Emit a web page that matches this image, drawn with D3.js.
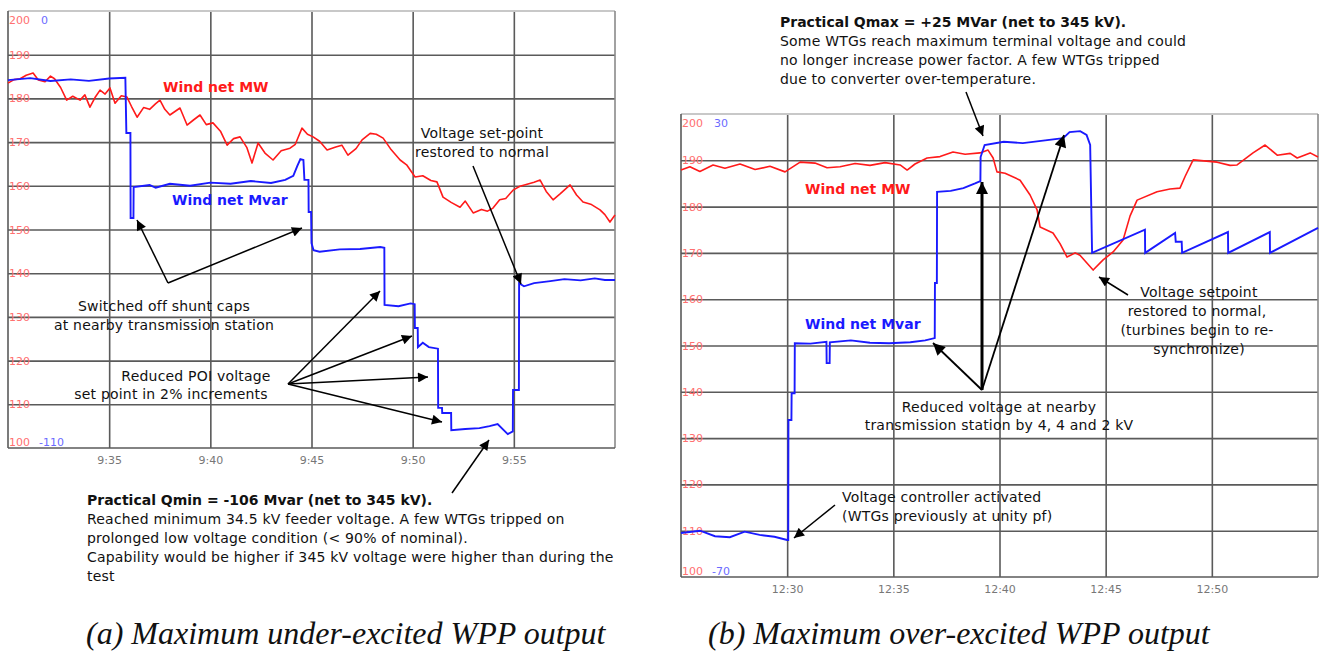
<!DOCTYPE html>
<html>
<head>
<meta charset="utf-8">
<script src="https://cdn.jsdelivr.net/npm/d3@7"></script>
<style>
  body { margin: 0; background: #fff; }
  svg { display: block; }
  .note { font-family: "DejaVu Sans", Verdana, sans-serif; font-size: 14px; letter-spacing: 0.2px; }
  .tick-lbl { font-family: "DejaVu Sans", Verdana, sans-serif; font-size: 11px; }
  .caption { font-family: "Liberation Serif", "Times New Roman", serif; font-style: italic; font-size: 32px; fill: #111; }
</style>
</head>
<body>
<svg id="chart" width="1319" height="652"></svg>
<script>
// ---- data ----
// (a) times are minutes past 9:00, (b) minutes past 12:00
const aTimeTicks = [35, 40, 45, 50, 55];
const aTimeLabels = ['9:35', '9:40', '9:45', '9:50', '9:55'];
const bTimeTicks = [30, 35, 40, 45, 50];
const bTimeLabels = ['12:30', '12:35', '12:40', '12:45', '12:50'];
const mwTicks = [110, 120, 130, 140, 150, 160, 170, 180, 190];

const aMwMin = [30.0, 30.3, 30.6, 30.9, 31.24, 31.5, 31.83, 32.1, 32.3, 32.6, 32.9, 33.2, 33.56, 33.8, 34.05, 34.3, 34.55, 34.8, 35.04, 35.29, 35.6, 35.88, 36.1, 36.38, 36.7, 37.0, 37.3, 37.51, 37.75, 38.0, 38.25, 38.5, 38.85, 39.15, 39.49, 39.8, 40.13, 40.5, 40.83, 41.15, 41.47, 41.8, 42.06, 42.36, 42.7, 43.1, 43.5, 43.94, 44.2, 44.53, 44.8, 45.08, 45.4, 45.77, 46.2, 46.5, 46.8, 47.2, 47.5, 47.9, 48.2, 48.54, 48.9, 49.38, 49.7, 50.12, 50.5, 50.9, 51.2, 51.5, 51.9, 52.34, 52.6, 52.99, 53.4, 53.7, 53.97, 54.3, 54.6, 54.96, 55.3, 55.7, 56.0, 56.3, 56.6, 56.94, 57.3, 57.78, 58.1, 58.42, 58.8, 59.26, 59.5, 59.75, 60.0];
const aMwVal = [183.5, 184.3, 184.5, 185.3, 185.8, 184.2, 183.8, 185.1, 184.5, 182.5, 179.6, 180.5, 179.6, 180.8, 178.0, 180.2, 181.9, 181.0, 182.4, 178.9, 180.6, 180.3, 178.2, 175.7, 177.9, 177.5, 178.8, 179.6, 177.5, 176.2, 177.0, 177.8, 173.9, 175.0, 176.2, 174.0, 174.4, 172.5, 169.3, 170.8, 171.2, 168.8, 165.2, 169.8, 167.5, 165.9, 168.0, 168.6, 169.5, 173.2, 171.8, 171.2, 170.2, 168.2, 168.9, 169.3, 167.0, 168.5, 170.5, 172.0, 171.8, 170.9, 168.5, 165.9, 164.8, 162.0, 162.3, 161.2, 160.9, 157.4, 156.2, 155.1, 156.5, 153.8, 154.6, 154.2, 154.9, 156.8, 157.1, 159.0, 159.9, 160.4, 160.8, 161.3, 158.7, 156.8, 158.2, 160.2, 157.9, 156.3, 155.8, 154.5, 153.4, 151.7, 153.3];

const aMvarMin = [30, 31.1, 32.1, 33.1, 34.0, 35.0, 35.8, 35.85, 36.05, 36.06, 36.2, 36.21, 37.0, 37.3, 38.0, 39.0, 40.0, 41.0, 42.0, 43.0, 43.7, 44.1, 44.3, 44.45, 44.6, 44.65, 44.85, 44.86, 44.98, 45.0, 45.1, 45.4, 46.4, 47.4, 48.4, 48.6, 48.61, 49.3, 49.9, 50.1, 50.11, 50.25, 50.26, 50.5, 50.8, 51.25, 51.26, 51.45, 51.46, 51.9, 51.91, 52.6, 53.3, 53.8, 54.2, 54.5, 54.7, 54.95, 54.96, 55.25, 55.26, 55.5, 56.0, 56.8, 57.5, 58.3, 59.0, 59.5, 60];
const aMvarVal = [-17.4, -16.9, -17.6, -17.2, -17.6, -17.0, -16.8, -30.7, -30.7, -52.1, -52.1, -44.3, -43.8, -44.5, -43.5, -44.0, -43.2, -43.5, -42.8, -43.3, -42.5, -41.5, -39.0, -37.3, -37.5, -42.5, -42.5, -50.6, -50.6, -58.4, -60.2, -60.6, -60.0, -59.9, -59.4, -59.6, -74.0, -74.3, -73.6, -73.8, -79.8, -79.8, -84.6, -83.5, -84.6, -85.0, -99.9, -99.9, -101.2, -101.2, -105.5, -105.2, -105.0, -104.5, -104.0, -105.5, -106.5, -105.8, -95.4, -95.4, -68.5, -69.3, -68.5, -68.0, -67.5, -67.8, -67.3, -67.7, -67.7];

const bMwMin = [25.0, 25.42, 25.89, 26.51, 27.07, 27.78, 28.49, 29.19, 29.9, 30.61, 31.31, 31.88, 32.49, 33.2, 33.9, 34.61, 35.32, 35.65, 36.02, 36.59, 37.2, 37.81, 38.38, 39.08, 39.46, 39.7, 39.88, 40.26, 40.97, 41.44, 41.77, 41.91, 42.52, 42.85, 43.18, 43.56, 43.79, 44.41, 44.88, 45.35, 45.82, 46.15, 46.48, 47.42, 48.03, 48.5, 48.74, 49.12, 50.25, 50.86, 51.19, 51.94, 52.51, 53.08, 53.69, 54.02, 54.63, 55.0];
const bMwVal = [187.9, 188.6, 187.6, 189.0, 188.3, 189.2, 188.0, 188.7, 187.5, 189.6, 189.4, 188.4, 188.6, 189.3, 188.9, 189.5, 189.0, 187.9, 189.2, 190.5, 190.8, 191.8, 191.3, 191.6, 192.2, 190.5, 187.5, 187.2, 185.7, 182.5, 179.3, 175.6, 174.3, 172.0, 169.1, 170.0, 169.5, 166.3, 168.5, 170.2, 172.8, 178.0, 181.4, 183.2, 183.8, 184.0, 186.5, 190.1, 189.6, 188.9, 189.0, 191.6, 193.3, 191.1, 191.5, 190.5, 191.6, 190.7];

const bMvarMin = [25.0, 25.9, 26.6, 27.3, 28.0, 28.7, 29.4, 30.0, 30.05, 30.06, 30.2, 30.21, 30.35, 30.36, 31.1, 31.85, 31.86, 32.0, 32.01, 33.0, 33.9, 34.8, 35.8, 36.5, 36.95, 36.96, 37.05, 37.06, 37.7, 38.3, 38.85, 39.1, 39.11, 39.3, 40.2, 41.1, 42.15, 43.0, 43.3, 43.8, 44.1, 44.27, 44.36, 46.85, 46.86, 48.27, 48.3, 48.58, 48.6, 50.76, 50.77, 52.73, 52.74, 55.0];
const bMvarVal = [-60.5, -60.0, -61.2, -61.4, -60.2, -60.9, -61.3, -62.0, -62.0, -36.1, -36.1, -30.3, -30.3, -19.5, -19.6, -19.2, -23.8, -23.8, -19.3, -18.9, -19.4, -19.5, -19.3, -18.9, -18.4, -6.5, -6.5, 13.2, 13.4, 14.0, 15.0, 15.5, 20.7, 23.3, 24.0, 23.7, 24.3, 24.8, 26.1, 26.3, 25.5, 23.3, 0, 5.0, 0, 4.3, 2.4, 2.4, 0, 4.5, 0, 4.5, 0, 5.4];

class TracePanel {

    constructor(_config, _data) {
        this.config = {
            parentElement: _config.parentElement,
            left: _config.left,
            top: _config.top,
            width: _config.width,
            height: _config.height,
            timeDomain: _config.timeDomain,
            mvarDomain: _config.mvarDomain,
            timeTicks: _config.timeTicks,
            timeLabels: _config.timeLabels
        };
        this.data = _data;
        this.initVis();
    }

    initVis() {
        let vis = this;
        vis.svg = d3.select(vis.config.parentElement);
        vis.chart = vis.svg.append('g')
            .attr('transform', `translate(${vis.config.left},${vis.config.top})`);

        vis.xScale = d3.scaleLinear().domain(vis.config.timeDomain).range([0, vis.config.width]);
        vis.mwScale = d3.scaleLinear().domain([100, 200]).range([vis.config.height, 0]);
        vis.mvarScale = d3.scaleLinear().domain(vis.config.mvarDomain).range([vis.config.height, 0]);

        // vertical grid + time labels
        vis.xAxis = d3.axisBottom(vis.xScale)
            .tickValues(vis.config.timeTicks)
            .tickSize(-vis.config.height)
            .tickPadding(8)
            .tickFormat((d, i) => vis.config.timeLabels[i]);

        vis.xAxisG = vis.chart.append('g')
            .attr('transform', `translate(0,${vis.config.height})`)
            .call(vis.xAxis)
            .call(g => g.select('.domain').remove());
        vis.xAxisG.selectAll('line').attr('stroke', '#5a5a5a').attr('stroke-width', 1.6);
        vis.xAxisG.selectAll('text').attr('class', 'tick-lbl').attr('fill', '#777').attr('font-size', null);

        // horizontal grid
        vis.yAxis = d3.axisLeft(vis.mwScale)
            .tickValues(mwTicks)
            .tickSize(-vis.config.width)
            .tickFormat('');
        vis.yAxisG = vis.chart.append('g')
            .call(vis.yAxis)
            .call(g => g.select('.domain').remove());
        vis.yAxisG.selectAll('line').attr('stroke', '#5a5a5a').attr('stroke-width', 1.6);

        // frame
        const w = vis.config.width, h = vis.config.height;
        vis.chart.append('line').attr('x1', 0).attr('x2', w).attr('y1', 0).attr('y2', 0)
            .attr('stroke', '#c8c8c8').attr('stroke-width', 2);
        vis.chart.append('line').attr('x1', w).attr('x2', w).attr('y1', 0).attr('y2', h)
            .attr('stroke', '#8a8a8a').attr('stroke-width', 1.6);
        vis.chart.append('line').attr('x1', 0).attr('x2', 0).attr('y1', 0).attr('y2', h)
            .attr('stroke', '#5a5a5a').attr('stroke-width', 1.6);
        vis.chart.append('line').attr('x1', 0).attr('x2', w).attr('y1', h).attr('y2', h)
            .attr('stroke', '#5a5a5a').attr('stroke-width', 1.6);

        // red MW labels on the grid lines, plus ends of both axes
        vis.chart.selectAll('.mw-lbl')
            .data(mwTicks)
            .join('text')
            .attr('class', 'tick-lbl mw-lbl')
            .attr('x', 1)
            .attr('y', d => vis.mwScale(d) + 4)
            .attr('fill', '#ff7070')
            .text(d => d);

        const ends = [
            {text: '200', x: 1, y: 13, color: '#ff7070'},
            {text: '100', x: 1, y: h - 2, color: '#ff7070'},
            {text: vis.config.mvarDomain[1], x: 33, y: 13, color: '#6b6bff'},
            {text: vis.config.mvarDomain[0], x: 31, y: h - 2, color: '#6b6bff'}
        ];
        vis.chart.selectAll('.end-lbl')
            .data(ends)
            .join('text')
            .attr('class', 'tick-lbl end-lbl')
            .attr('x', d => d.x)
            .attr('y', d => d.y)
            .attr('fill', d => d.color)
            .text(d => d.text);
    }

    renderVis() {
        let vis = this;
        const mwLine = d3.line()
            .x(d => vis.xScale(d[0]))
            .y(d => vis.mwScale(d[1]));
        const mvarLine = d3.line()
            .x(d => vis.xScale(d[0]))
            .y(d => vis.mvarScale(d[1]));

        vis.chart.append('path')
            .datum(d3.zip(vis.data.mwMin, vis.data.mwVal))
            .attr('fill', 'none')
            .attr('stroke', '#ff1a1a')
            .attr('stroke-width', 1.6)
            .attr('stroke-linejoin', 'round')
            .attr('d', mwLine);

        vis.chart.append('path')
            .datum(d3.zip(vis.data.mvarMin, vis.data.mvarVal))
            .attr('fill', 'none')
            .attr('stroke', '#1a1aff')
            .attr('stroke-width', 1.9)
            .attr('d', mvarLine);
    }
}

const svg = d3.select('#chart');

const panelA = new TracePanel({
    parentElement: '#chart', left: 8, top: 11, width: 607, height: 437,
    timeDomain: [30, 60], mvarDomain: [-110, 0],
    timeTicks: aTimeTicks, timeLabels: aTimeLabels
}, {mwMin: aMwMin, mwVal: aMwVal, mvarMin: aMvarMin, mvarVal: aMvarVal});
panelA.renderVis();

const panelB = new TracePanel({
    parentElement: '#chart', left: 681, top: 114, width: 637, height: 463,
    timeDomain: [25, 55], mvarDomain: [-70, 30],
    timeTicks: bTimeTicks, timeLabels: bTimeLabels
}, {mwMin: bMwMin, mwVal: bMwVal, mvarMin: bMvarMin, mvarVal: bMvarVal});
panelB.renderVis();

// ---- annotations ----
const defs = svg.append('defs');
defs.append('marker')
    .attr('id', 'head')
    .attr('viewBox', '0 0 10 10')
    .attr('refX', 10).attr('refY', 5)
    .attr('markerWidth', 14).attr('markerHeight', 10)
    .attr('markerUnits', 'userSpaceOnUse')
    .attr('orient', 'auto')
    .append('path').attr('d', 'M0,0 L10,5 L0,10 z').attr('fill', '#000');
defs.append('marker')
    .attr('id', 'headBig')
    .attr('viewBox', '0 0 10 10')
    .attr('refX', 10).attr('refY', 5)
    .attr('markerWidth', 16).attr('markerHeight', 12)
    .attr('markerUnits', 'userSpaceOnUse')
    .attr('orient', 'auto')
    .append('path').attr('d', 'M0,0 L10,5 L0,10 z').attr('fill', '#000');

const arrows = [
    [168, 283, 137, 220, 1.5], [168, 283, 302, 228, 1.5],
    [288, 384, 380, 291, 1.5], [288, 384, 412, 336, 1.5], [288, 384, 428, 377, 1.5], [288, 384, 442, 422, 1.5],
    [473, 166, 521, 284, 1.5],
    [452, 493, 489, 440, 1.5],
    [966, 92, 983, 136, 1.5],
    [982, 390, 982, 182, 3],
    [982, 390, 1064, 135, 1.8],
    [982, 390, 933, 343, 1.8],
    [1128, 295, 1099, 277, 1.5],
    [835, 505, 794, 538, 1.5]
];
svg.append('g').selectAll('line')
    .data(arrows)
    .join('line')
    .attr('x1', d => d[0]).attr('y1', d => d[1])
    .attr('x2', d => d[2]).attr('y2', d => d[3])
    .attr('stroke', '#000')
    .attr('stroke-width', d => d[4])
    .attr('marker-end', d => d[4] > 1.6 ? 'url(#headBig)' : 'url(#head)');

const notes = [
    {t: 'Wind net MW', x: 163, y: 92, bold: true, color: '#ff1a1a'},
    {t: 'Wind net Mvar', x: 172, y: 205, bold: true, color: '#1a1aff'},
    {t: 'Switched off shunt caps', x: 164, y: 311, anchor: 'middle'},
    {t: 'at nearby transmission station', x: 164, y: 330, anchor: 'middle'},
    {t: 'Reduced POI voltage', x: 196, y: 381, anchor: 'middle'},
    {t: 'set point in 2% increments', x: 171, y: 399, anchor: 'middle'},
    {t: 'Voltage set-point', x: 482, y: 138, anchor: 'middle'},
    {t: 'restored to normal', x: 482, y: 157, anchor: 'middle'},
    {t: 'Practical Qmin = -106 Mvar (net to 345 kV).', x: 87, y: 505, bold: true},
    {t: 'Reached minimum 34.5 kV feeder voltage. A few WTGs tripped on', x: 87, y: 524},
    {t: 'prolonged low voltage condition (< 90% of nominal).', x: 87, y: 543},
    {t: 'Capability would be higher if 345 kV voltage were higher than during the', x: 87, y: 562},
    {t: 'test', x: 87, y: 581},
    {t: 'Practical Qmax = +25 MVar (net to 345 kV).', x: 780, y: 27, bold: true},
    {t: 'Some WTGs reach maximum terminal voltage and could', x: 780, y: 46},
    {t: 'no longer increase power factor. A few WTGs tripped', x: 780, y: 65},
    {t: 'due to converter over-temperature.', x: 780, y: 84},
    {t: 'Wind net MW', x: 805, y: 194, bold: true, color: '#ff1a1a'},
    {t: 'Wind net Mvar', x: 805, y: 329, bold: true, color: '#1a1aff'},
    {t: 'Reduced voltage at nearby', x: 999, y: 412, anchor: 'middle'},
    {t: 'transmission station by 4, 4 and 2 kV', x: 999, y: 430, anchor: 'middle'},
    {t: 'Voltage setpoint', x: 1199, y: 297, anchor: 'middle'},
    {t: 'restored to normal,', x: 1197, y: 316, anchor: 'middle'},
    {t: '(turbines begin to re-', x: 1197, y: 335, anchor: 'middle'},
    {t: 'synchronize)', x: 1199, y: 354, anchor: 'middle'},
    {t: 'Voltage controller activated', x: 842, y: 502},
    {t: '(WTGs previously at unity pf)', x: 842, y: 521}
];
svg.append('g').selectAll('text')
    .data(notes)
    .join('text')
    .attr('class', 'note')
    .attr('x', d => d.x)
    .attr('y', d => d.y)
    .attr('text-anchor', d => d.anchor || 'start')
    .attr('font-weight', d => d.bold ? 'bold' : null)
    .style('fill', d => d.color || '#111')
    .style('letter-spacing', d => d.bold ? '0px' : null)
    .text(d => d.t);

const captions = [
    {t: '(a) Maximum under-excited WPP output', x: 86},
    {t: '(b) Maximum over-excited WPP output', x: 708}
];
svg.append('g').selectAll('text')
    .data(captions)
    .join('text')
    .attr('class', 'caption')
    .attr('x', d => d.x)
    .attr('y', 644)
    .text(d => d.t);
</script>
</body>
</html>
